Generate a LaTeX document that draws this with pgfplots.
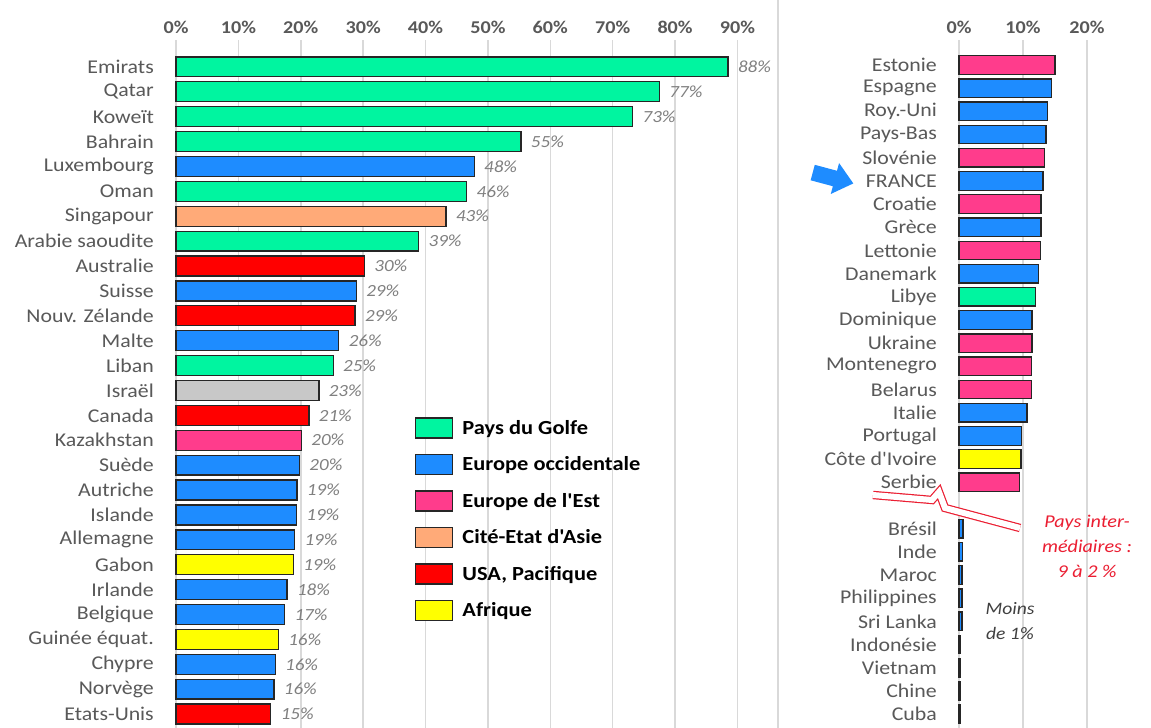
\documentclass[border=0pt]{standalone}
\usepackage{pgfplots}
\pgfplotsset{compat=1.18}
\usepackage{pgfplotstable}
\usepackage{fontspec}
\setmainfont{Carlito}[FakeStretch=1.12, Ligatures=TeXOff]
\definecolor{gulf}{RGB}{0,245,160}
\definecolor{west}{RGB}{30,140,255}
\definecolor{east}{RGB}{255,60,140}
\definecolor{cite}{RGB}{255,170,120}
\definecolor{usa}{RGB}{255,0,0}
\definecolor{afr}{RGB}{255,255,0}
\definecolor{isr}{RGB}{200,200,200}
\definecolor{lab}{RGB}{89,89,89}
\definecolor{vlab}{RGB}{128,128,128}
\definecolor{gridc}{RGB}{217,217,217}
\definecolor{annred}{RGB}{235,30,50}

% left panel data: y position (26 = top), value, label
\pgfplotstableread{
y v l
26 88.5 88
25 77.5 77
24 73.2 73
23 55.3 55
21 46.6 46
19 38.9 39
14 25.2 25
}\Lgulf
\pgfplotstableread{
y v l
22 47.8 48
17 28.9 29
15 26.1 26
10 19.8 20
9 19.4 19
8 19.3 19
7 19.0 19
5 17.8 18
4 17.4 17
2 15.9 16
1 15.7 16
}\Lwest
\pgfplotstableread{
y v l
11 20.1 20
}\Least
\pgfplotstableread{
y v l
20 43.3 43
}\Lcite
\pgfplotstableread{
y v l
18 30.2 30
16 28.7 29
12 21.3 21
0 15.2 15
}\Lusa
\pgfplotstableread{
y v l
6 18.8 19
3 16.4 16
}\Lafr
\pgfplotstableread{
y v l
13 22.9 23
}\Lisr

% right panel data
\pgfplotstableread{
y v
18 12.0
}\Rgulf
\pgfplotstableread{
y v
27 14.5
26 13.8
25 13.6
23 13.1
21 12.8
19 12.4
17 11.4
13 10.6
12 9.8
8 0.6
7 0.5
6 0.45
5 0.45
4 0.45
3 0.25
2 0.2
1 0.15
0 0.15
}\Rwest
\pgfplotstableread{
y v
28 15.0
24 13.4
22 12.8
20 12.7
16 11.4
15 11.3
14 11.3
10 9.4
}\Reast
\pgfplotstableread{
y v
11 9.7
}\Rafr

\pgfplotsset{
  mybar/.style={xbar, bar width=0.8, bar shift=0pt, draw=black!85, line width=1.3bp, fill=#1,
    legend image code/.code={\draw[##1] (0bp,-10bp) rectangle (37bp,10bp);}},
  lbar/.style={mybar=#1, point meta=explicit,
    nodes near coords={\pgfmathprintnumber[assume math mode=true]{\pgfplotspointmeta}\%},
    nodes near coords style={anchor=west, xshift=6bp, text=vlab, font=\itshape\fontsize{17bp}{17bp}\selectfont}},
  panel/.style={scale only axis, clip=false,
    axis line style={draw=none}, major tick length=0pt,
    xticklabel pos=upper,
    xmajorgrids, grid style={gridc, line width=1.5bp},
    xticklabel style={font=\bfseries\fontsize{18bp}{18bp}\selectfont, text=lab, anchor=south, inner sep=0pt, yshift=6bp},
    yticklabel style={font=\fontsize{19.5bp}{20bp}\selectfont, text=lab, anchor=east, inner sep=0pt, xshift=-22bp},
    ytick distance=1}
}

\begin{document}
\begin{tikzpicture}
\useasboundingbox (0,0) rectangle (1151bp,728bp);
\fill[white] (0,0) rectangle (1151bp,728bp);
\draw[gridc, line width=1.5bp] (778bp,0) -- (778bp,728bp);

\begin{axis}[panel,
  at={(176bp,0bp)}, anchor=south west,
  width=602bp, height=688bp,
  xmin=0, xmax=96.5, ymin=-0.56, ymax=27.08,
  xtick={0,10,...,90},
  xticklabels={0\%,10\%,20\%,30\%,40\%,50\%,60\%,70\%,80\%,90\%},
  ytick={0,...,26},
  yticklabels={{Etats-Unis},{Norvège},{Chypre},{Guinée équat.},{Belgique},{Irlande},{Gabon},{Allemagne},{Islande},{Autriche},{Suède},{Kazakhstan},{Canada},{Israël},{Liban},{Malte},{Nouv. Zélande},{Suisse},{Australie},{Arabie saoudite},{Singapour},{Oman},{Luxembourg},{Bahrain},{Koweït},{Qatar},{Emirats}},
  legend style={at={(0.397,0.452)}, anchor=north west, draw=none, fill=none,
    inner sep=0pt, row sep=15.2bp, font=\bfseries\fontsize{20bp}{20bp}\selectfont,
    cells={anchor=west}, nodes={inner sep=0pt, text=black},
    /tikz/every odd column/.append style={column sep=9bp}},
  legend entries={Pays du Golfe,Europe occidentale,Europe de l'Est,Cité-Etat d'Asie,{USA, Pacifique},Afrique},
]
\addplot[lbar=gulf] table[x=v,y=y,meta=l]{\Lgulf};
\addplot[lbar=west] table[x=v,y=y,meta=l]{\Lwest};
\addplot[lbar=east] table[x=v,y=y,meta=l]{\Least};
\addplot[lbar=cite] table[x=v,y=y,meta=l]{\Lcite};
\addplot[lbar=usa] table[x=v,y=y,meta=l]{\Lusa};
\addplot[lbar=afr] table[x=v,y=y,meta=l]{\Lafr};
\addplot[lbar=isr, forget plot] table[x=v,y=y,meta=l]{\Lisr};
\end{axis}

\begin{axis}[panel,
  at={(959bp,0bp)}, anchor=south west,
  width=128bp, height=688bp,
  xmin=0, xmax=20, ymin=-0.6, ymax=29.08,
  xtick={0,10,20},
  xticklabels={0\%,10\%,20\%},
  ytick={0,...,28},
  yticklabels={{Cuba},{Chine},{Vietnam},{Indonésie},{Sri Lanka},{Philippines},{Maroc},{Inde},{Brésil},{},{Serbie},{Côte d'Ivoire},{Portugal},{Italie},{Belarus},{Montenegro},{Ukraine},{Dominique},{Libye},{Danemark},{Lettonie},{Grèce},{Croatie},{FRANCE},{Slovénie},{Pays-Bas},{Roy.-Uni},{Espagne},{Estonie}},
]
\addplot[mybar=gulf] table[x=v,y=y]{\Rgulf};
\addplot[mybar=west] table[x=v,y=y]{\Rwest};
\addplot[mybar=east] table[x=v,y=y]{\Reast};
\addplot[mybar=afr] table[x=v,y=y]{\Rafr};
\end{axis}

% break symbol
\draw[annred, line width=1.2bp, double=white, double distance=6bp]
  (873bp,233bp) -- (932bp,228bp) -- (939bp,236bp) -- (945bp,220bp) -- (1020bp,200bp);
\node[align=center, text=annred, font=\itshape\fontsize{18bp}{25bp}\selectfont] at (1087bp,182bp)
  {Pays inter-\\médiaires :\\9 à 2 \%};
\node[align=center, text=black!75, font=\itshape\fontsize{17.5bp}{25bp}\selectfont] at (1010bp,107bp)
  {Moins\\de 1\%};
% block arrow pointing at FRANCE
\begin{scope}[shift={(833bp,550bp)}, rotate=-15]
\fill[west] (-21bp,-8bp) -- (2bp,-8bp) -- (2bp,-16bp) -- (21bp,0bp) -- (2bp,16bp) -- (2bp,8bp) -- (-21bp,8bp) -- cycle;
\end{scope}
\end{tikzpicture}
\end{document}
